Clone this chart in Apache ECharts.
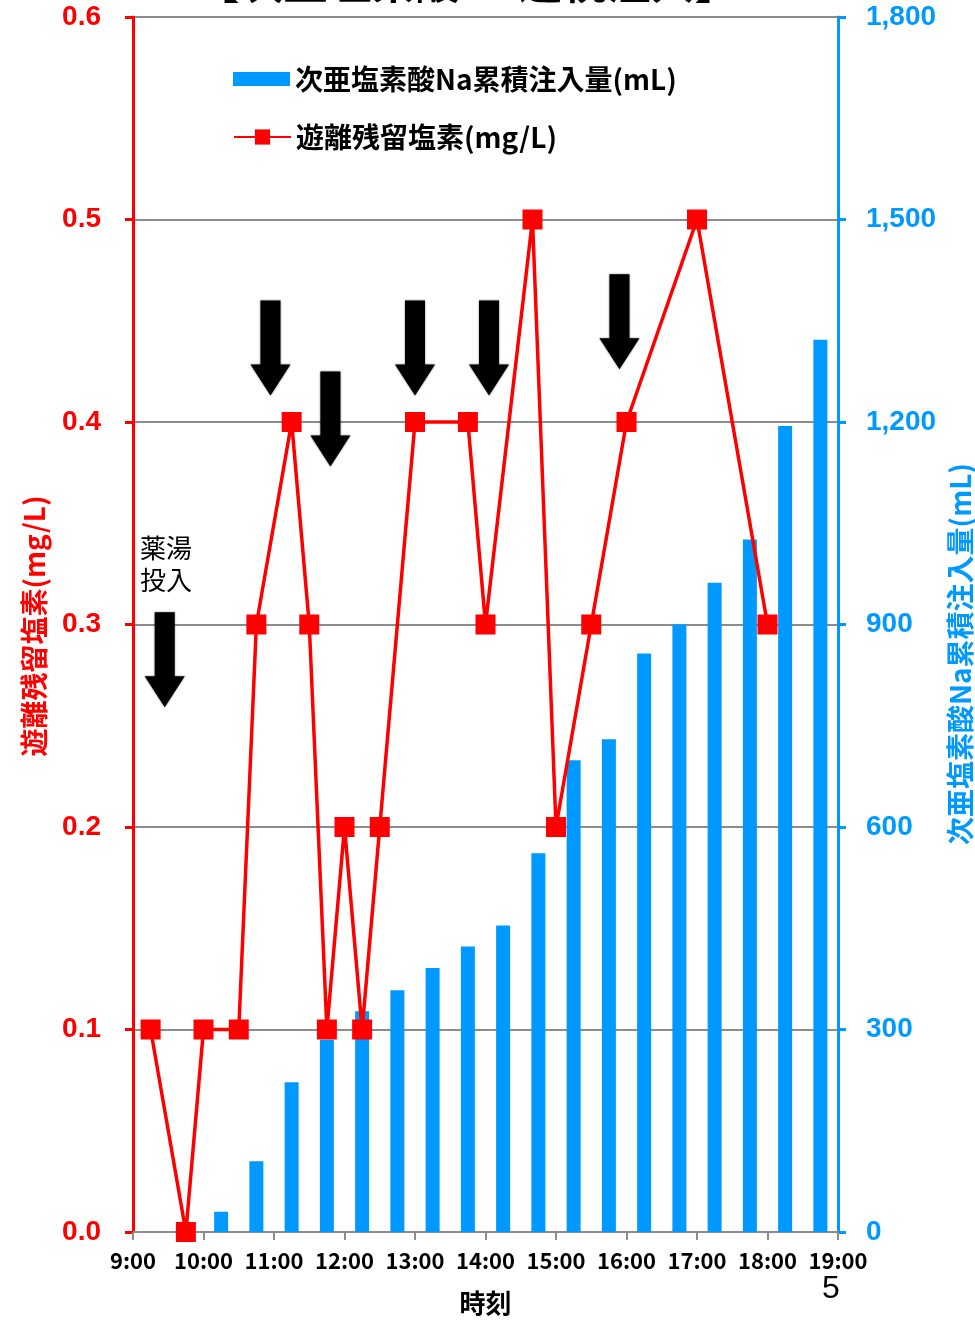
<!DOCTYPE html>
<html>
<head>
<meta charset="utf-8">
<style>
  html, body { margin: 0; padding: 0; background: #fff; }
  #chart { width: 975px; height: 1321px; }
</style>
<script src="https://cdn.jsdelivr.net/npm/echarts@6/dist/echarts.min.js"></script>
</head>
<body>
<div id="chart"></div>
<script>
// Cumulative sodium hypochlorite dosage (bars, right axis)
const doseTimes = ['10:15','10:45','11:15','11:45','12:15','12:45','13:15','13:45','14:15',
                   '14:45','15:15','15:45','16:15','16:45','17:15','17:45','18:15','18:45'];
const doseValues = [30, 105, 222, 285, 327, 358, 391, 423, 454,
                    561, 699, 730, 857, 900, 962, 1026, 1194, 1322];

// Free residual chlorine (line, left axis)
const chlorineTimes = ['9:15','9:45','10:00','10:30','10:45','11:15','11:30','11:45','12:00','12:15',
                       '12:30','13:00','13:45','14:00','14:40','15:00','15:30','16:00','17:00','18:00'];
const chlorineValues = [0.1, 0.0, 0.1, 0.1, 0.3, 0.4, 0.3, 0.1, 0.2, 0.1,
                        0.2, 0.4, 0.4, 0.3, 0.5, 0.2, 0.3, 0.4, 0.5, 0.3];

// Bath-chemical dosing markers: [time, level at arrow top]
const arrowTimes = ['9:27', '10:57', '11:48', '13:00', '14:03', '15:54'];
const arrowTops = [0.306, 0.460, 0.425, 0.460, 0.460, 0.473];

const hourTicks = ['9:00','10:00','11:00','12:00','13:00','14:00','15:00','16:00','17:00','18:00','19:00'];

const barName = '次亜塩素酸Na累積注入量(mL)';
const lineName = '遊離残留塩素(mg/L)';

const START = 9 * 60;
function toMin(s) {
  const [h, m] = s.split(':').map(Number);
  return h * 60 + m - START;
}

const RED = '#ff0000';
const BLUE = '#0099ff';
const GRID = '#8c8c8c';
const CJK = '"Noto Sans CJK JP", "Noto Sans", sans-serif';
const NUM = '"Liberation Sans", Arial, sans-serif';

const chart = echarts.init(document.getElementById('chart'));

chart.setOption({
  animation: false,
  backgroundColor: '#fff',
  grid: { left: 133, right: 137, top: 17, bottom: 84, containLabel: false },
  legend: [
    {
      data: [{ name: barName, icon: 'rect' }],
      left: 233, top: 65, padding: 0,
      itemWidth: 57, itemHeight: 14, itemGap: 8,
      textStyle: { fontFamily: CJK, fontWeight: 'bold', fontSize: 28, color: '#000' }
    },
    {
      data: [lineName],
      left: 233, top: 123, padding: 0,
      itemWidth: 57, itemHeight: 19, itemGap: 8,
      textStyle: { fontFamily: CJK, fontWeight: 'bold', fontSize: 28, color: '#000' }
    }
  ],
  xAxis: {
    type: 'value',
    min: 0, max: 600, interval: 60,
    name: '時刻',
    nameLocation: 'middle',
    nameGap: 58,
    nameTextStyle: { fontFamily: CJK, fontWeight: 'bold', fontSize: 26, color: '#000' },
    axisLine: { lineStyle: { color: GRID, width: 2 } },
    axisTick: { show: true, length: 8, lineStyle: { color: GRID, width: 2 } },
    axisLabel: {
      formatter: v => hourTicks[Math.round(v / 60)],
      fontFamily: CJK, fontWeight: 'bold', fontSize: 22, color: '#000', margin: 18
    },
    splitLine: { show: false }
  },
  yAxis: [
    {
      type: 'value', min: 0, max: 0.6, interval: 0.1,
      position: 'left',
      axisLine: { show: true, onZero: false, lineStyle: { color: RED, width: 3 } },
      axisTick: { show: true, length: 8, lineStyle: { color: RED, width: 3 } },
      axisLabel: {
        formatter: v => v.toFixed(1),
        fontFamily: NUM, fontWeight: 'bold', fontSize: 28, color: RED, margin: 32
      },
      splitLine: { show: true, lineStyle: { color: GRID, width: 2 } }
    },
    {
      type: 'value', min: 0, max: 1800, interval: 300,
      position: 'right',
      axisLine: { show: true, onZero: false, lineStyle: { color: BLUE, width: 3 } },
      axisTick: { show: true, length: 8, lineStyle: { color: BLUE, width: 3 } },
      axisLabel: {
        formatter: v => v.toLocaleString('en-US'),
        fontFamily: NUM, fontWeight: 'bold', fontSize: 28, color: BLUE, margin: 28
      },
      splitLine: { show: false }
    }
  ],
  series: [
    {
      name: barName,
      type: 'bar',
      yAxisIndex: 1,
      barWidth: 14,
      itemStyle: { color: BLUE },
      data: doseTimes.map((t, i) => [toMin(t), doseValues[i]]),
      z: 2
    },
    {
      name: lineName,
      type: 'line',
      yAxisIndex: 0,
      symbol: 'rect',
      symbolSize: 20,
      lineStyle: { color: RED, width: 3.5 },
      itemStyle: { color: RED },
      data: chlorineTimes.map((t, i) => [toMin(t), chlorineValues[i]]),
      z: 4
    },
    {
      name: 'arrows',
      type: 'custom',
      yAxisIndex: 0,
      silent: true,
      z: 5,
      data: arrowTimes.map((t, i) => [toMin(t), arrowTops[i]]),
      renderItem: (params, api) => {
        const p = api.coord([api.value(0), api.value(1)]);
        const x = p[0], y = p[1];
        const sw = 10, sh = 64, hw = 20, hh = 31;
        return {
          type: 'polygon',
          shape: {
            points: [
              [x - sw, y], [x + sw, y], [x + sw, y + sh], [x + hw, y + sh],
              [x, y + sh + hh], [x - hw, y + sh], [x - sw, y + sh]
            ]
          },
          style: { fill: '#000', shadowBlur: 2, shadowColor: 'rgba(0,0,0,0.6)' }
        };
      }
    }
  ],
  graphic: [
    {
      type: 'text', z: 10,
      x: 467, y: 4,
      style: {
        text: '【次亜塩素酸Na連続注入】',
        font: 'bold 44px ' + CJK, fill: '#000',
        align: 'center', verticalAlign: 'bottom'
      }
    },
    {
      type: 'text', left: 140, top: 532, z: 10,
      style: {
        text: '薬湯\n投入',
        font: '26px ' + CJK, fill: '#000', lineHeight: 32
      }
    },
    {
      type: 'text', z: 10,
      x: 34, y: 626, rotation: Math.PI / 2,
      style: {
        text: lineName, font: 'bold 28px ' + CJK, fill: RED,
        align: 'center', verticalAlign: 'middle'
      }
    },
    {
      type: 'text', z: 10,
      x: 960, y: 654, rotation: Math.PI / 2,
      style: {
        text: barName, font: 'bold 28px ' + CJK, fill: BLUE,
        align: 'center', verticalAlign: 'middle'
      }
    },
    {
      type: 'text', left: 822, top: 1273, z: 10,
      style: { text: '5', font: '32px ' + NUM, fill: '#000' }
    }
  ]
});
</script>
</body>
</html>
